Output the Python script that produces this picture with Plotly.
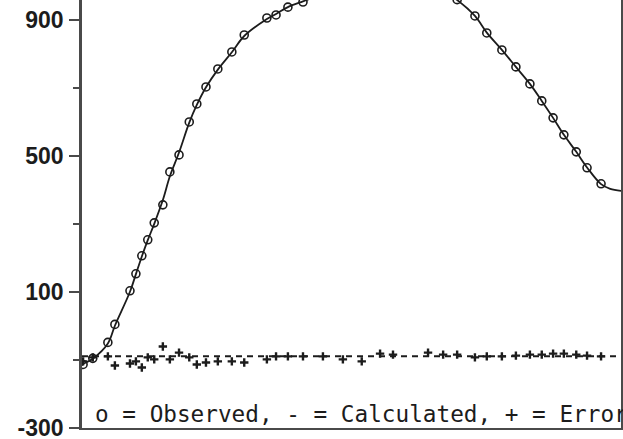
import plotly.graph_objects as go

# Sample positions (arbitrary channel units, 0-100 across the frame)
x_points = [0.2, 2.0, 4.8, 6.1, 8.9, 10.0, 11.1, 12.2, 13.4, 15.0, 16.3, 18.0, 19.9,
            21.3, 23.0, 25.2, 27.8, 30.1, 34.3, 36.0, 38.2, 41.0, 44.7, 48.4, 51.9,
            55.3, 57.7, 64.2, 67.0, 69.6, 72.9, 75.1, 77.9, 80.5, 83.1, 85.3, 87.4,
            89.4, 91.7, 93.7, 96.3]

observed = [-114, -96, -49, 4, 103, 153, 206, 253, 303, 356, 453, 503, 600,
            653, 703, 756, 806, 856, 906, 915, 938, 953, 975, 995, 1008,
            1014, 1015, 1002, 985, 960, 912, 862, 812, 762, 712, 662, 612,
            562, 512, 465, 418]

# Fitted curve, sampled on the same points plus the frame ends
x_calc = [0.0] + x_points + [98.0, 100.0]
calculated = [-117, -113, -97, -52, 0, 100, 152, 204, 252, 300, 370, 440, 510, 598,
              650, 702, 754, 805, 853, 903, 918, 938, 955, 976, 996, 1009,
              1015, 1015, 1002, 985, 959, 912, 863, 812, 762, 712, 662, 612,
              562, 512, 466, 417, 403, 397]

# Residuals, drawn about an offset baseline
error_base = -90
errors = [-15, -3, 0, -27, -21, -15, -33, -3, -9, 29, -9, 11, -3,
          -24, -18, -15, -15, -18, -9, 0, 0, 0, 0, -9, -15,
          8, 5, 11, 5, 5, -3, 0, 0, 2, 5, 5, 8,
          8, 5, 2, 0]

y_ticks = [900, 500, 100, -300]
legend_text = "o = Observed, - = Calculated, + = Error"

ink = "#1c1c1c"
axis_grey = "#4a4a4a"

fig = go.Figure()

# Zero line for the residuals
fig.add_trace(go.Scatter(
    x=[0, 100], y=[error_base, error_base], mode="lines",
    line=dict(color=ink, width=2, dash="6px,5px"), hoverinfo="skip"))

# Residual markers
fig.add_trace(go.Scatter(
    x=x_points, y=[error_base + e for e in errors], mode="markers",
    marker=dict(symbol="cross-thin", size=6, color=ink,
                line=dict(width=2.4, color=ink))))

# Calculated curve
fig.add_trace(go.Scatter(
    x=x_calc, y=calculated, mode="lines", line_shape="spline",
    line=dict(color=ink, width=1.8)))

# Observed points
fig.add_trace(go.Scatter(
    x=x_points, y=observed, mode="markers",
    marker=dict(symbol="circle-open", size=8, color=ink,
                line=dict(width=1.6, color=ink))))

fig.add_annotation(
    text=legend_text, xref="paper", yref="paper", x=0.02, y=0.032,
    xanchor="left", yanchor="middle", showarrow=False,
    font=dict(family="DejaVu Sans Mono", size=22.7, color=ink))

fig.update_layout(
    width=623, height=439,
    margin=dict(l=82, r=2, t=0, b=11),
    paper_bgcolor="white", plot_bgcolor="white",
    showlegend=False,
    xaxis=dict(range=[0, 100], showgrid=False, zeroline=False,
               showticklabels=False, ticks="", automargin=False,
               showline=True, linecolor=axis_grey, linewidth=2),
    yaxis=dict(range=[-301, 959], showgrid=False, zeroline=False,
               automargin=False,
               tickmode="array", tickvals=y_ticks,
               ticktext=[str(v) for v in y_ticks],
               ticks="outside", ticklen=10, tickwidth=2, tickcolor=axis_grey,
               minor=dict(ticks="outside", tickvals=[700, 300, -100],
                          ticklen=6, tickwidth=2, tickcolor=axis_grey),
               ticklabelstandoff=1, ticklabeloverflow="allow",
               tickfont=dict(family="Liberation Sans", size=23, color=ink,
                             weight="bold"),
               showline=True, linecolor=axis_grey, linewidth=2.5, mirror=True),
)

fig.write_html("out.html")
